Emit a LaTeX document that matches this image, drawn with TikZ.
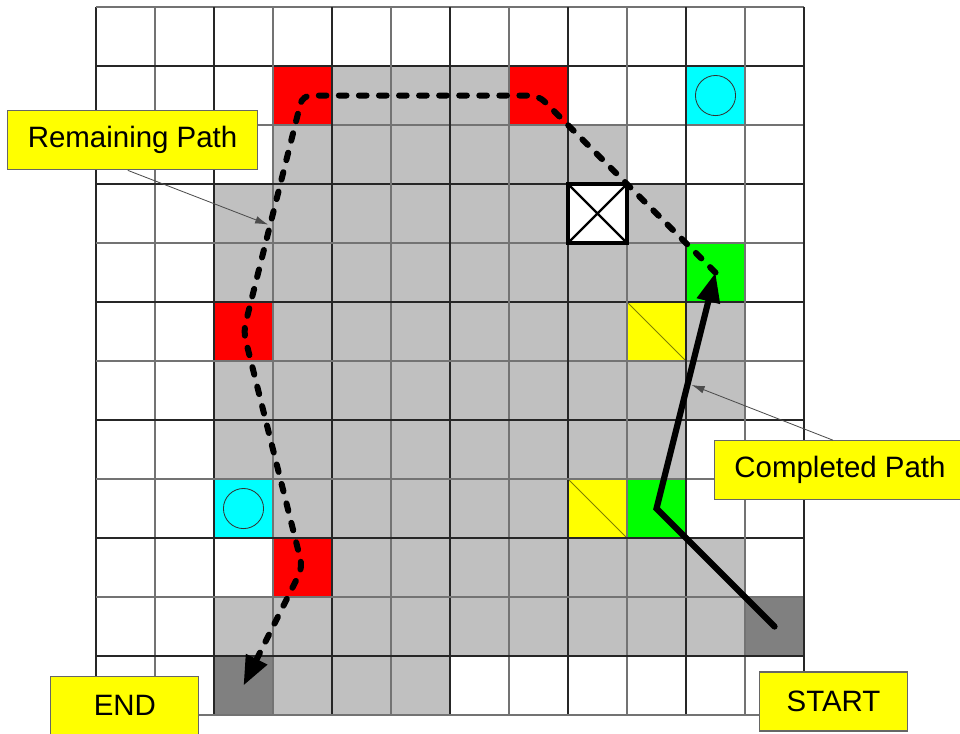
\documentclass[tikz,border=0pt]{standalone}
\usepackage{fontspec}
\setmainfont{Liberation Sans}
\usepackage{xcolor}
\usepackage{tikz}
\usetikzlibrary{arrows.meta,calc}
\definecolor{cellgray}{HTML}{C0C0C0}
\definecolor{endgray}{HTML}{808080}
\definecolor{diagolive}{HTML}{808000}
\definecolor{aqua}{HTML}{00FFFF}
\definecolor{lime}{HTML}{00FF00}
\definecolor{signyellow}{HTML}{FFFF00}
\definecolor{pure red}{HTML}{FF0000}
\tikzset{
	>=Latex,
	gridline/.style={
		line width=0.75pt,
		draw=black!85
	},
	gridlight/.style={
		line width=0.75pt,
		draw=black!55
	},
	callbox/.style={
		rectangle,
		draw=black!60,
		line width=0.5pt,
		fill=signyellow,
		minimum height=1cm,
		inner sep=0pt,
		font=\fontsize{14.2}{17}\selectfont
	},
	callline/.style={
		-{Latex[length=2.2mm,width=1.3mm]},
		draw=black!70,
		line width=0.4pt
	},
	donepath/.style={
		-{Triangle[length=5mm,width=3.8mm]},
		line width=3pt,
		line cap=round
	},
	todopath/.style={
		-{Triangle[length=5mm,width=3.8mm]},
		line width=2.9pt,
		line cap=round,
		dash pattern=on 1.3mm off 2.1mm,
		rounded corners=4pt
	}
}

\begin{document}
\begin{tikzpicture}[x=1cm, y=-1cm]
	
	\useasboundingbox (-1.627,-0.119) rectangle (14.644,12.305);
	
	%--------------------
	% Explored cells
	%--------------------
	\foreach \r/\a/\b in {1/3/8, 2/3/9, 3/2/10, 4/2/10, 5/2/11, 6/2/11,
		7/2/10, 8/2/10, 9/3/11, 10/2/12, 11/2/6}
		\fill[cellgray] (\a,\r) rectangle (\b,\r+1);
	
	%--------------------
	% Special cells
	%--------------------
	\foreach \c/\r in {3/1, 7/1, 2/5, 3/9}
		\fill[pure red] (\c,\r) rectangle ++(1,1);
	\foreach \c/\r in {10/4, 9/8}
		\fill[lime] (\c,\r) rectangle ++(1,1);
	\foreach \c/\r in {9/5, 8/8} {
		\fill[signyellow] (\c,\r) rectangle ++(1,1);
		\draw[diagolive, line width=0.4pt] (\c,\r) -- ++(1,1);
	}
	\foreach \c/\r in {10/1, 2/8}
		\fill[aqua] (\c,\r) rectangle ++(1,1);
	\foreach \c/\r in {11/10, 2/11}
		\fill[endgray] (\c,\r) rectangle ++(1,1);
	
	%--------------------
	% Grid
	%--------------------
	\foreach \i in {0,2,...,12} {
		\draw[gridline] (\i,0) -- (\i,12);
		\draw[gridlight] (0,\i) -- (12,\i);
	}
	\foreach \i in {1,3,...,11} {
		\draw[gridlight] (\i,0) -- (\i,12);
		\draw[gridline] (0,\i) -- (12,\i);
	}
	
	%--------------------
	% Blocked cell and goals
	%--------------------
	\fill[white] (8,3) rectangle (9,4);
	\draw[line width=1.1pt] (8,3) -- (9,4) (9,3) -- (8,4);
	\draw[line width=1.5pt] (8,3) rectangle (9,4);
	
	\foreach \c/\r in {10/1, 2/8}
		\draw[fill=aqua, draw=black!80, line width=0.4pt] (\c+0.5,\r+0.5) circle (0.34);
	
	%--------------------
	% Path points
	%--------------------
	\coordinate (start) at (11.5,10.5);
	\coordinate (g2) at (9.5,8.5);
	\coordinate (g1) at (10.5,4.5);
	\coordinate (r1) at (7.5,1.5);
	\coordinate (r2) at (3.5,1.5);
	\coordinate (r3) at (2.5,5.5);
	\coordinate (r4) at (3.5,9.5);
	\coordinate (goal) at (2.5,11.5);
	\coordinate (rp) at ($(r2)!0.55!(r3)$);
	\coordinate (cp) at ($(g2)!0.53!(g1)$);
	
	%--------------------
	% Paths
	%--------------------
	\draw[donepath] (start) -- (g2) -- (g1);
	\draw[todopath] (g1) -- (r1) -- (r2) -- (r3) -- (r4) -- (goal);
	
	%--------------------
	% Labels
	%--------------------
	\node[callbox, minimum width=4.25cm] (remlabel) at (0.62,2.26) {Remaining Path};
	\node[callbox, minimum width=4.24cm] (complabel) at (12.61,7.85) {Completed Path};
	\node[callbox, minimum width=2.52cm] (startlabel) at (12.5,11.77) {START};
	\node[callbox, minimum width=2.51cm] (endlabel) at (0.49,11.84) {END};
	
	\draw[callline, shorten >=1pt] ([xshift=-0.08cm]remlabel.south) -- (rp);
	\draw[callline, shorten >=2pt] ([xshift=-0.12cm]complabel.north) -- (cp);
	
\end{tikzpicture}
\end{document}
